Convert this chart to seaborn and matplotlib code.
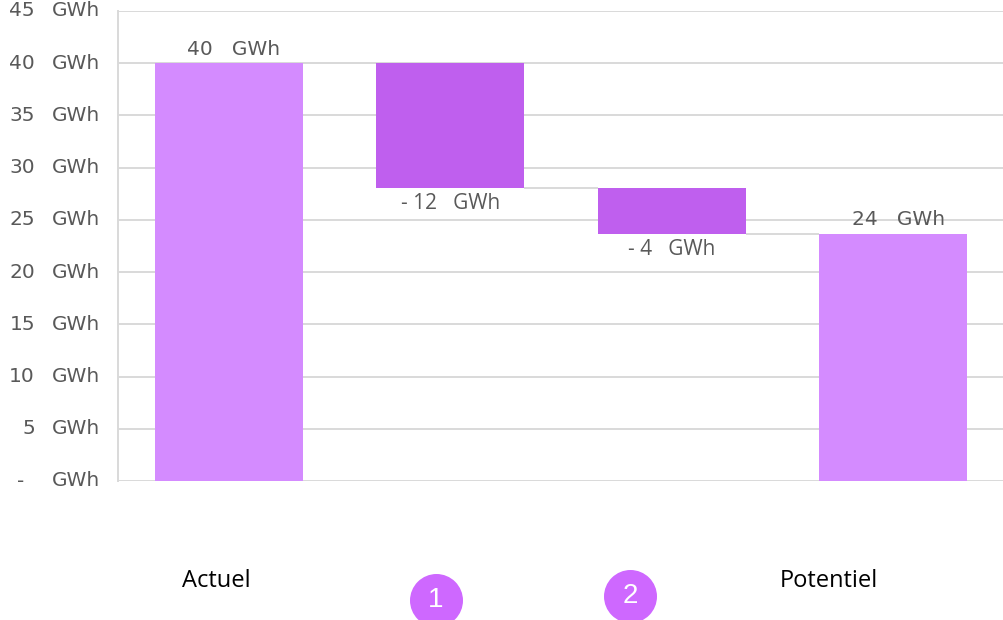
import matplotlib
matplotlib.use("Agg")
import matplotlib.pyplot as plt
from matplotlib.transforms import blended_transform_factory
import numpy as np
import pandas as pd
import seaborn as sns

# Waterfall: current energy, two reductions, resulting potential (GWh)
steps = ["Actuel", "1", "2", "Potentiel"]
start_value = 40.0
reductions = [-11.9, -4.45]
y_ticks = [0, 5, 10, 15, 20, 25, 30, 35, 40, 45]
unit = "GWh"

levels = np.cumsum([start_value] + reductions)      # 40.0, 28.1, 23.65
end_value = levels[-1]

heights = [start_value] + reductions + [end_value]
bases = [0.0, levels[0], levels[1], 0.0]
kinds = ["total", "delta", "delta", "total"]
df = pd.DataFrame({"step": steps, "height": heights, "base": bases, "kind": kinds})

TOTAL_COLOR = "#D48BFF"
DELTA_COLOR = "#BF5FEE"
BADGE_COLOR = "#CE68FF"
GRID_COLOR = "#D9D9D9"
TEXT_GREY = "#595959"

sns.set_theme(style="white")
plt.rcParams["font.family"] = ["DejaVu Sans"]

W, H = 1004, 620
fig = plt.figure(figsize=(W / 100, H / 100), dpi=100)
ax = fig.add_axes([118 / W, 1 - 481 / H, 886 / W, 470 / H])

BAR_W = 0.67
for kind, color in [("total", TOTAL_COLOR), ("delta", DELTA_COLOR)]:
    sub = df[df["kind"] == kind]
    sns.barplot(data=sub, x="step", y="height", order=steps, color=color,
                bottom=sub["base"].to_numpy(), width=BAR_W, errorbar=None,
                saturation=1, ax=ax, zorder=3, linewidth=0)

ax.set_xlim(-0.5, len(steps) - 0.5)
ax.set_ylim(0, 45)
ax.set_xlabel("")
ax.set_ylabel("")
ax.set_xticks([])
ax.set_yticks(y_ticks)
ax.set_yticklabels([])
ax.tick_params(axis="y", length=0)
ax.grid(axis="y", color=GRID_COLOR, linewidth=1.4, zorder=0)
for side in ["top", "right", "bottom"]:
    ax.spines[side].set_visible(False)
ax.spines["left"].set_color(GRID_COLOR)
ax.spines["left"].set_linewidth(1.4)

# connector lines between consecutive floating bars
for i, lvl in enumerate(levels):
    ax.hlines(lvl, i + BAR_W / 2, i + 1 - BAR_W / 2, color=GRID_COLOR,
              linewidth=1.4, zorder=2)

# y tick labels in accounting style: number, then unit
tr = blended_transform_factory(ax.transAxes, ax.transData)
ax_w = 886
TICK_FS = 14.5
for v in y_ticks:
    if v == 0:
        ax.text((21 - 118) / ax_w, v, "-", transform=tr, ha="center", va="center",
                fontsize=TICK_FS, color=TEXT_GREY)
    else:
        ax.text((35 - 118) / ax_w, v, f"{v}", transform=tr, ha="right", va="center",
                fontsize=TICK_FS, color=TEXT_GREY)
    ax.text((100 - 118) / ax_w, v, unit, transform=tr, ha="right", va="center",
            fontsize=TICK_FS, color=TEXT_GREY)

# value labels
for i, (h, b, k) in enumerate(zip(heights, bases, kinds)):
    if k == "total":
        ax.annotate(f"{h:.0f}   {unit}", (i, b + h), xytext=(5, 14),
                    textcoords="offset pixels", ha="center", va="center",
                    fontsize=TICK_FS, color=TEXT_GREY, zorder=4)
    else:
        ax.annotate(f"- {abs(h):.0f}   {unit}", (i, b + h), xytext=(0, -16),
                    textcoords="offset pixels", ha="center", va="center",
                    fontsize=15, color=TEXT_GREY, family="Open Sans", zorder=4)

# category captions and numbered badges under the axis
fig.text(216 / W, 1 - 581 / H, steps[0], ha="center", va="center",
         fontsize=17, color="black", family="Open Sans")
fig.text(829 / W, 1 - 581 / H, steps[3], ha="center", va="center",
         fontsize=17, color="black", family="Open Sans")
for label, (px, py) in zip(steps[1:3], [(436, 600), (630, 596)]):
    ax.scatter([px / W], [1 - py / H], s=(53 * 0.72) ** 2, color=BADGE_COLOR,
               transform=fig.transFigure, clip_on=False, zorder=5, linewidths=0)
    fig.text(px / W, 1 - py / H, label, ha="center", va="center",
             fontsize=20, color="white", family="Liberation Sans", zorder=6)

ax.set_xlim(-0.5, len(steps) - 0.5)
ax.set_ylim(0, 45)
fig.savefig("out.png", dpi=100)
